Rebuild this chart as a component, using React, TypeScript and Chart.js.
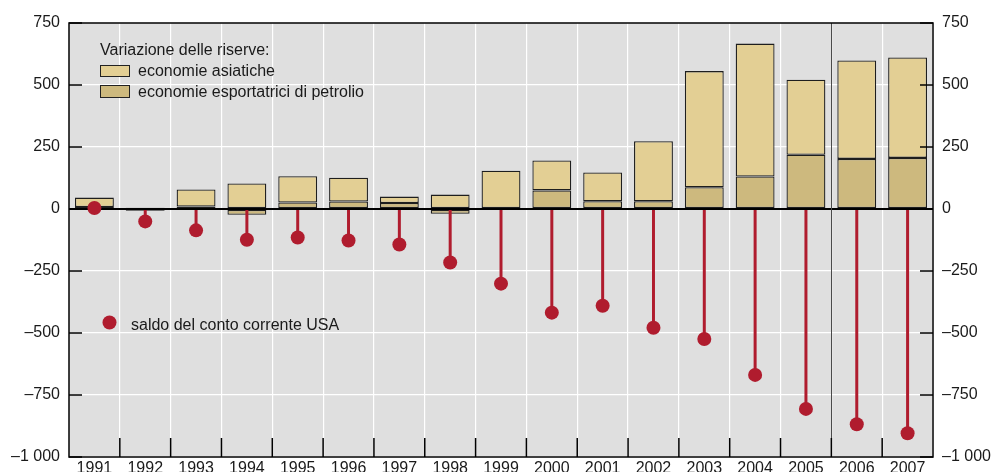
import React, { useEffect, useRef } from 'react';
import { Chart, registerables } from 'chart.js';

Chart.register(...registerables);

const years = ['1991', '1992', '1993', '1994', '1995', '1996', '1997', '1998', '1999', '2000', '2001', '2002', '2003', '2004', '2005', '2006', '2007'];
const oilReserves = [8, -7, 10, -23, 26, 30, 24, -19, 4, 75, 31, 31, 88, 131, 219, 202, 206];
const asianReserves = [38, 5, 69, 103, 106, 96, 26, 58, 150, 121, 116, 242, 468, 536, 302, 397, 405];
const usCurrentAccount = [4, -50, -86, -124, -115, -127, -143, -216, -301, -418, -390, -479, -524, -669, -806, -868, -904];
const yTicks = [-1000, -750, -500, -250, 0, 250, 500, 750];
const separatorAfter = '2005';

const legendTitle = 'Variazione delle riserve:';
const legendAsian = 'economie asiatiche';
const legendOil = 'economie esportatrici di petrolio';
const legendUS = 'saldo del conto corrente USA';

const ASIAN = '#e3cf94';
const OIL = '#cdb97e';
const RED = '#b01c2e';
const BG = '#dfdfdf';
const BAR_EDGE = '#1e1e1e';
const FONT = '"Liberation Sans", Arial, sans-serif';

function fmt(v: number): string {
  const a = Math.abs(v);
  const s = a >= 1000 ? Math.floor(a / 1000) + ' ' + String(a % 1000).padStart(3, '0') : String(a);
  return v < 0 ? '\u2013' + s : s;
}

const customPlugin = {
  id: 'customDecor',
  beforeDraw(chart: any) {
    const { ctx, chartArea: a } = chart;
    ctx.save();
    ctx.fillStyle = BG;
    ctx.fillRect(a.left, a.top, a.right - a.left, a.bottom - a.top);
    ctx.restore();
  },
  afterDraw(chart: any) {
    const { ctx, chartArea: a, scales } = chart;
    const x = scales.x;
    const y = scales.y;
    const line = (x1: number, y1: number, x2: number, y2: number) => {
      ctx.beginPath();
      ctx.moveTo(x1, y1);
      ctx.lineTo(x2, y2);
      ctx.stroke();
    };
    ctx.save();
    // separator
    const si = years.indexOf(separatorAfter);
    const sx = Math.round((x.getPixelForValue(si) + x.getPixelForValue(si + 1)) / 2) + 0.5;
    ctx.strokeStyle = '#4a4a4a';
    ctx.lineWidth = 1;
    line(sx, a.top, sx, a.bottom);
    // bottom inward ticks
    ctx.strokeStyle = '#000';
    ctx.lineWidth = 1.5;
    for (let k = 1; k < years.length; k++) {
      const bx = (x.getPixelForValue(k - 1) + x.getPixelForValue(k)) / 2;
      line(bx, a.bottom - 19, bx, a.bottom);
    }
    // y inward ticks
    for (const v of yTicks) {
      const py = y.getPixelForValue(v);
      line(a.left, py, a.left + 13, py);
      line(a.right - 13, py, a.right, py);
    }
    // border
    ctx.lineWidth = 1.5;
    ctx.strokeRect(a.left, a.top, a.right - a.left, a.bottom - a.top);

    // legend
    ctx.font = '16px ' + FONT;
    ctx.fillStyle = '#1a1a1a';
    ctx.textBaseline = 'alphabetic';
    ctx.textAlign = 'left';
    const lx = a.left + 31;
    ctx.fillText(legendTitle, lx, a.top + 32);
    ctx.lineWidth = 1;
    ctx.strokeStyle = '#222';
    ctx.fillStyle = ASIAN;
    ctx.fillRect(lx, a.top + 42, 30, 11);
    ctx.strokeRect(lx + 0.5, a.top + 42.5, 29, 11);
    ctx.fillStyle = OIL;
    ctx.fillRect(lx, a.top + 62, 30, 12);
    ctx.strokeRect(lx + 0.5, a.top + 62.5, 29, 12);
    ctx.fillStyle = '#1a1a1a';
    ctx.fillText(legendAsian, lx + 38, a.top + 53);
    ctx.fillText(legendOil, lx + 38, a.top + 74);

    ctx.fillStyle = RED;
    ctx.beginPath();
    ctx.arc(a.left + 40.5, a.top + 299.5, 7, 0, Math.PI * 2);
    ctx.fill();
    ctx.fillStyle = '#1a1a1a';
    ctx.fillText(legendUS, a.left + 62, a.top + 307);
    ctx.restore();
  },
};

export default function App() {
  const ref = useRef<HTMLCanvasElement | null>(null);
  useEffect(() => {
    if (!ref.current) return;
    const tickFont = { family: FONT, size: 16 };
    const chart = new Chart(ref.current, {
      type: 'bar',
      data: {
        labels: years,
        datasets: [
          {
            type: 'line',
            label: legendUS,
            data: usCurrentAccount,
            showLine: false,
            pointRadius: 7,
            pointHoverRadius: 7,
            pointBackgroundColor: RED,
            pointBorderWidth: 0,
            borderColor: RED,
            stack: 'pts',
            order: 0,
          } as any,
          {
            type: 'bar',
            label: 'stem',
            data: usCurrentAccount,
            backgroundColor: RED,
            borderWidth: 0,
            grouped: false,
            maxBarThickness: 3,
            stack: 'stem',
            order: 1,
          } as any,
          {
            type: 'bar',
            label: legendOil,
            data: oilReserves,
            backgroundColor: OIL,
            borderColor: BAR_EDGE,
            borderWidth: 1.3,
            borderSkipped: false,
            stack: 'res',
            order: 2,
          } as any,
          {
            type: 'bar',
            label: legendAsian,
            data: asianReserves,
            backgroundColor: ASIAN,
            borderColor: BAR_EDGE,
            borderWidth: 1.3,
            borderSkipped: false,
            stack: 'res',
            order: 3,
          } as any,
        ],
      },
      options: {
        responsive: false,
        animation: false,
        events: [],
        layout: { padding: { top: 23, left: 0, right: 0, bottom: 0 } },
        datasets: {
          bar: { barPercentage: 0.765, categoryPercentage: 1 },
        },
        plugins: {
          legend: { display: false },
          tooltip: { enabled: false },
        },
        scales: {
          x: {
            stacked: true,
            offset: true,
            grid: { offset: true, color: '#ffffff', lineWidth: 1.2, drawTicks: false },
            border: { display: false },
            ticks: { font: tickFont, color: '#1a1a1a', padding: 2, maxRotation: 0, autoSkip: false },
            afterFit: (s: any) => { s.height = 15; s.paddingLeft = 0; s.paddingRight = 0; },
          },
          y: {
            position: 'left',
            stacked: true,
            min: -1000,
            max: 750,
            afterBuildTicks: (s: any) => { s.ticks = yTicks.map((v) => ({ value: v })); },
            grid: {
              color: (c: any) => (c.tick && c.tick.value === 0 ? '#000000' : '#ffffff'),
              lineWidth: (c: any) => (c.tick && c.tick.value === 0 ? 2 : 1.2),
              drawTicks: false,
            },
            border: { display: false },
            ticks: { font: tickFont, color: '#1a1a1a', padding: 9, callback: (v: any) => fmt(Number(v)) },
            afterFit: (s: any) => { s.width = 69; s.paddingTop = 0; s.paddingBottom = 0; },
          },
          y2: {
            position: 'right',
            min: -1000,
            max: 750,
            afterBuildTicks: (s: any) => { s.ticks = yTicks.map((v) => ({ value: v })); },
            grid: { display: false, drawTicks: false },
            border: { display: false },
            ticks: { font: tickFont, color: '#1a1a1a', padding: 9, callback: (v: any) => fmt(Number(v)) },
            afterFit: (s: any) => { s.width = 60; s.paddingTop = 0; s.paddingBottom = 0; },
          },
        },
      },
      plugins: [customPlugin],
    } as any);
    return () => chart.destroy();
  }, []);
  return (
    <div style={{ position: 'fixed', left: 0, top: 0, width: 993, height: 472, background: '#fff' }}>
      <canvas ref={ref} width={993} height={472} style={{ display: 'block' }} />
    </div>
  );
}
